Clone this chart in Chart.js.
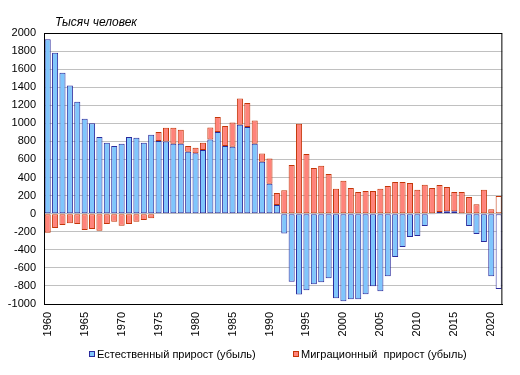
<!DOCTYPE html>
<html>
<head>
<meta charset="utf-8">
<script src="https://cdn.jsdelivr.net/npm/chart.js@4"></script>
<style>
  html, body { margin: 0; padding: 0; background: #fff; }
</style>
</head>
<body>
<canvas id="chart" width="520" height="375"></canvas>
<script>
const years = [];
for (let y = 1960; y <= 2021; y++) years.push(String(y));

const naturalGrowth = [
  1930, 1780, 1560, 1420, 1240, 1050, 1000, 850, 785, 750,
  775, 850, 840, 785, 875, 805, 800, 775, 775, 685,
  670, 705, 820, 905, 750, 740, 985, 960, 775, 575,
  330, 95, -220, -755, -895, -847, -781, -759, -714, -936,
  -969, -947, -947, -892, -803, -858, -692, -481, -370, -259,
  -248, -137, -10, 18, 26, 26, -5, -137, -226, -315,
  -692, -833
];

const migrationGrowth = [
  -210, -160, -125, -105, -115, -180, -170, -190, -115, -90,
  -135, -115, -90, -70, -50, 100, 150, 175, 155, 65,
  60, 80, 135, 165, 220, 270, 290, 265, 255, 90,
  280, 135, 260, 540, 995, 660, 505, 530, 440, 275,
  365, 285, 240, 250, 250, 275, 305, 350, 350, 340,
  265, 320, 285, 300, 270, 215, 240, 185, 105, 265,
  50, 195
];

const yTicks = { min: -1000, max: 2000, step: 200 };
const labelEvery = 5;

const FONT = '"Liberation Sans", Arial, sans-serif';
const blueFill = '#80c6fc', blueLine = '#2a2a9c';
const redFill = '#ff837a', redLine = '#c43608';
const last = years.length - 1;

// frame, title and legend drawn on top of the plot
const extras = {
  id: 'extras',
  afterDraw(chart) {
    const { ctx, chartArea: a } = chart;
    ctx.save();
    ctx.strokeStyle = '#000';
    ctx.lineWidth = 1;
    ctx.strokeRect(a.left + 0.5, a.top + 0.5, a.right - a.left - 1, a.bottom - a.top);

    ctx.fillStyle = '#000';
    ctx.font = 'italic 12px ' + FONT;
    ctx.textBaseline = 'middle';
    ctx.textAlign = 'left';
    ctx.fillText('Тысяч человек', a.left + 11, 23);

    ctx.font = '11px ' + FONT;
    const items = [{ x: 89, ds: chart.data.datasets[0] }, { x: 293, ds: chart.data.datasets[1] }];
    items.forEach(it => {
      ctx.fillStyle = it.ds.legendFill;
      ctx.fillRect(it.x, 351, 6, 6);
      ctx.strokeStyle = it.ds.legendLine;
      ctx.strokeRect(it.x + 0.5, 351.5, 5, 5);
      ctx.fillStyle = '#000';
      ctx.fillText(it.ds.label, it.x + 8, 355);
    });
    ctx.restore();
  }
};

new Chart(document.getElementById('chart'), {
  type: 'bar',
  data: {
    labels: years,
    datasets: [
      {
        label: 'Естественный прирост (убыль)',
        data: naturalGrowth,
        backgroundColor: c => c.dataIndex === last ? '#ffffff' : blueFill,
        borderColor: blueLine,
        legendFill: blueFill,
        legendLine: blueLine,
        borderWidth: 1,
        borderSkipped: false,
        barPercentage: 0.82,
        categoryPercentage: 1
      },
      {
        label: 'Миграционный  прирост (убыль)',
        data: migrationGrowth,
        backgroundColor: c => c.dataIndex === last ? '#ffffff' : redFill,
        borderColor: redLine,
        legendFill: redFill,
        legendLine: redLine,
        borderWidth: 1,
        borderSkipped: false,
        barPercentage: 0.82,
        categoryPercentage: 1
      }
    ]
  },
  options: {
    responsive: false,
    animation: false,
    layout: { padding: { top: 33, right: 16, left: 0, bottom: 0 } },
    plugins: {
      legend: { display: false },
      title: { display: false },
      tooltip: { enabled: false }
    },
    scales: {
      x: {
        stacked: true,
        grid: { display: false, drawTicks: false },
        border: { color: '#000' },
        afterFit(scale) { scale.height = 71; },
        ticks: {
          autoSkip: false,
          minRotation: 90,
          maxRotation: 90,
          padding: 8,
          color: '#000',
          font: { family: FONT, size: 11 },
          callback(v, i) {
            return Number(years[i]) % labelEvery === 0 ? years[i] : '';
          }
        }
      },
      y: {
        stacked: true,
        min: yTicks.min,
        max: yTicks.max,
        afterFit(scale) { scale.width = 44; },
        grid: { color: '#c0c0c0', drawTicks: false },
        border: { color: '#000' },
        ticks: {
          stepSize: yTicks.step,
          padding: 8,
          color: '#000',
          font: { family: FONT, size: 11 },
          callback: v => String(v)
        }
      }
    }
  },
  plugins: [extras]
});
</script>
</body>
</html>
